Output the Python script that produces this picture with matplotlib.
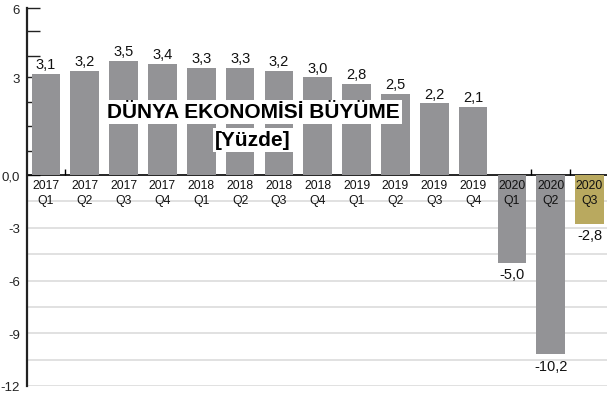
import numpy as np
import matplotlib
matplotlib.use("Agg")
from matplotlib import pyplot as plt

plt.rcParams['font.family'] = ['Liberation Sans Narrow', 'Liberation Sans', 'DejaVu Sans']

years = ["2017", "2017", "2017", "2017", "2018", "2018", "2018", "2018",
         "2019", "2019", "2019", "2019", "2020", "2020", "2020"]
quarters = ["Q1", "Q2", "Q3", "Q4", "Q1", "Q2", "Q3", "Q4",
            "Q1", "Q2", "Q3", "Q4", "Q1", "Q2", "Q3"]
growth = [3.1, 3.2, 3.5, 3.4, 3.3, 3.3, 3.2, 3.0, 2.8, 2.5, 2.2, 2.1, -5.0, -10.2, -2.8]

title = "DÜNYA EKONOMİSİ BÜYÜME"
subtitle = "[Yüzde]"

gray = "#939396"
gold = "#b9a95f"

# the original graphic stretches the positive side more than the negative one
knots_v = [-12, 0, 3.5, 6]
knots_p = [-211, 0, 114, 167]
fwd = lambda v: np.interp(v, knots_v, knots_p)
inv = lambda p: np.interp(p, knots_p, knots_v)

fig = plt.figure(figsize=(6.07, 4.02), dpi=100)
ax = fig.add_axes([27 / 607, 15 / 402, 580 / 607, 378 / 402])
ax.set_yscale("function", functions=(fwd, inv))
ax.set_ylim(-12, 6)
ax.set_xlim(-0.49, 14.45)

x = np.arange(len(growth))
colors = [gray] * (len(growth) - 1) + [gold]
ax.bar(x, growth, width=0.74, color=colors, zorder=3)

for v in np.arange(-1.5, -12.01, -1.5):
    ax.axhline(v, color="#d8d8d8", lw=1.1, zorder=1)

for i, v in enumerate(growth):
    lab = f"{v:.1f}".replace(".", ",")
    if v >= 0:
        ax.annotate(lab, (i, v), xytext=(0, 2), textcoords="offset points",
                    ha="center", va="bottom", fontsize=10.5, color="#111111", zorder=5)
    else:
        ax.annotate(lab, (i, v), xytext=(0, -3), textcoords="offset points",
                    ha="center", va="top", fontsize=10.5, color="#111111", zorder=5)
    ax.annotate(years[i] + "\n" + quarters[i], (i, 0), xytext=(0, -3),
                textcoords="offset points", ha="center", va="top",
                fontsize=8.8, linespacing=1.35, color="#111111", zorder=5)

ax.spines["top"].set_visible(False)
ax.spines["right"].set_visible(False)
ax.spines["bottom"].set_position(("data", 0))
ax.spines["bottom"].set_linewidth(1.2)
ax.spines["bottom"].set_zorder(2)
ax.spines["left"].set_linewidth(1.6)
ax.spines["left"].set_color("#222222")

ax.set_xticks([0.5, 12.5, 13.5])
ax.set_xticklabels([])
ax.tick_params(axis="x", direction="in", length=4, width=1)

ax.set_yticks([-12, -9, -6, -3, 0, 3, 6])
ax.set_yticklabels(["-12", "-9", "-6", "-3", "0,0", "3", "6"])
ax.set_yticks([0.75, 1.5, 2.25, 3.75, 4.9], minor=True)
ax.tick_params(axis="y", which="both", direction="in", length=9, width=1,
               labelsize=9.5, pad=5, colors="#222222")
for t in ax.yaxis.get_major_ticks():
    if t.get_loc() < 0:
        t.tick1line.set_visible(False)

box = dict(facecolor="white", edgecolor="none", boxstyle="square,pad=0.12")
fig.text(253 / 607, 1 - 113 / 402, title, ha="center", va="center",
         fontsize=15, fontweight="bold", bbox=box, zorder=10)
fig.text(253 / 607, 1 - 141 / 402, subtitle, ha="center", va="center",
         fontsize=15, fontweight="bold", bbox=box, zorder=10)

fig.savefig("out.png", dpi=100)
